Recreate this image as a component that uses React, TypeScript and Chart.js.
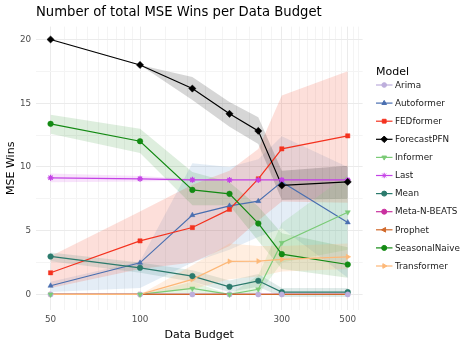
import React, { useEffect, useRef } from 'react';
import { Chart, registerables } from 'chart.js';
import { drawPoint } from 'chart.js/helpers';

Chart.register(...registerables);

// ---------- data ----------
const budgets = [50, 100, 150, 200, 250, 300, 500];
const xMajorTicks = [50, 100, 300, 500];
const yMajorTicks = [0, 5, 10, 15, 20];

const models = ['Arima', 'Autoformer', 'FEDformer', 'ForecastPFN', 'Informer', 'Last', 'Mean', 'Meta-N-BEATS', 'Prophet', 'SeasonalNaive', 'Transformer'];

const arimaWins = [0, 0, 0, 0, 0, 0, 0];
const autoformerWins = [0.68, 2.48, 6.22, 6.95, 7.32, 8.83, 5.65];
const fedformerWins = [1.7, 4.2, 5.25, 6.67, 9.07, 11.42, 12.44];
const forecastPFNWins = [20, 18, 16.15, 14.17, 12.83, 8.55, 8.83];
const informerWins = [0, 0, 0.47, 0, 0.41, 4.05, 6.45];
const lastWins = [9.15, 9.07, 8.99, 8.98, 8.98, 8.98, 8.98];
const meanWins = [2.98, 2.09, 1.44, 0.6, 1.07, 0.18, 0.18];
const metaNBeatsWins = [0, 0, 0, 0, 0, 0, 0];
const prophetWins = [0, 0, 0, 0, 0, 0, 0];
const seasonalNaiveWins = [13.38, 12.02, 8.2, 7.89, 5.57, 3.16, 2.35];
const transformerWins = [0, 0, 1.18, 2.59, 2.61, 2.75, 2.95];

// uncertainty bands (lower / upper)
const autoformerLow = [0.2, 0.5, 2.5, 3.5, 4.5, 5.2, 1.3];
const autoformerHigh = [1.0, 2.6, 10.3, 10.0, 10.6, 12.4, 10.0];
const fedformerLow = [0.5, 2.0, 2.5, 3.8, 5.8, 7.3, 7.2];
const fedformerHigh = [3.0, 6.5, 8.6, 9.7, 11.4, 15.6, 17.5];
const forecastPFNLow = [20, 18, 15.25, 13.15, 11.8, 7.4, 7.5];
const forecastPFNHigh = [20, 18, 17.05, 15.1, 13.9, 9.7, 10.1];
const informerLow = [0, 0, 0, 0, 0, 2.5, 3.5];
const informerHigh = [0, 0, 1.0, 0, 1.5, 5.6, 9.4];
const lastLow = [8.8, 8.85, 8.95, 8.96, 8.96, 8.96, 8.96];
const lastHigh = [9.48, 9.3, 9.05, 9.0, 9.0, 9.0, 9.0];
const meanLow = [2.6, 1.7, 1.0, 0.2, 0.6, -0.2, -0.2];
const meanHigh = [3.3, 2.5, 1.9, 1.1, 1.6, 0.5, 0.5];
const seasonalNaiveLow = [12.6, 11.1, 7.0, 7.0, 4.2, 2.0, 1.3];
const seasonalNaiveHigh = [14.1, 13.0, 9.6, 8.8, 6.9, 4.8, 3.7];
const transformerLow = [0, 0, 0.4, 1.2, 1.4, 1.8, 2.0];
const transformerHigh = [0, 0, 2.3, 4.0, 3.8, 3.8, 4.0];

type Series = {
  name: string;
  values: number[];
  color: string;
  band?: string;
  low?: number[];
  high?: number[];
  style: string;
  rotation: number;
  radius: number;
  showPoints: boolean;
  pointOrder: number;
};

const series: Series[] = [
  { name: models[0], values: arimaWins, color: '#BDAEDC', style: 'circle', rotation: 0, radius: 2.6, showPoints: true, pointOrder: 2 },
  { name: models[1], values: autoformerWins, color: '#4A6FB0', band: 'rgba(90,140,200,0.16)', low: autoformerLow, high: autoformerHigh, style: 'triangle', rotation: 0, radius: 3, showPoints: true, pointOrder: 8 },
  { name: models[2], values: fedformerWins, color: '#F4321F', band: 'rgba(245,80,50,0.18)', low: fedformerLow, high: fedformerHigh, style: 'rect', rotation: 0, radius: 3, showPoints: true, pointOrder: 7 },
  { name: models[3], values: forecastPFNWins, color: '#000000', band: 'rgba(0,0,0,0.16)', low: forecastPFNLow, high: forecastPFNHigh, style: 'rectRot', rotation: 0, radius: 3.6, showPoints: true, pointOrder: 3 },
  { name: models[4], values: informerWins, color: '#7BCB77', band: 'rgba(123,203,119,0.2)', low: informerLow, high: informerHigh, style: 'triangle', rotation: 180, radius: 3, showPoints: true, pointOrder: 1 },
  { name: models[5], values: lastWins, color: '#C442E6', band: 'rgba(210,70,230,0.15)', low: lastLow, high: lastHigh, style: 'star', rotation: 0, radius: 3, showPoints: true, pointOrder: 6 },
  { name: models[6], values: meanWins, color: '#2B7A6C', band: 'rgba(43,122,108,0.15)', low: meanLow, high: meanHigh, style: 'circle', rotation: 0, radius: 2.8, showPoints: true, pointOrder: 5 },
  { name: models[7], values: metaNBeatsWins, color: '#C9309F', style: 'circle', rotation: 0, radius: 2.8, showPoints: false, pointOrder: 11 },
  { name: models[8], values: prophetWins, color: '#D1692B', style: 'triangle', rotation: -90, radius: 3, showPoints: false, pointOrder: 10 },
  { name: models[9], values: seasonalNaiveWins, color: '#138A13', band: 'rgba(19,138,19,0.14)', low: seasonalNaiveLow, high: seasonalNaiveHigh, style: 'circle', rotation: 0, radius: 2.8, showPoints: true, pointOrder: 4 },
  { name: models[10], values: transformerWins, color: '#FDB878', band: 'rgba(253,170,100,0.2)', low: transformerLow, high: transformerHigh, style: 'triangle', rotation: 90, radius: 3, showPoints: true, pointOrder: 9 },
];

const TITLE = 'Number of total MSE Wins per Data Budget';
const X_TITLE = 'Data Budget';
const Y_TITLE = 'MSE Wins';
const LEGEND_TITLE = 'Model';

const FONT = '"DejaVu Sans", "Liberation Sans", sans-serif';

function xGridValues(): { value: number; major: boolean }[] {
  const out: { value: number; major: boolean }[] = [];
  for (let i = 0; i < xMajorTicks.length; i++) {
    const a = xMajorTicks[i];
    out.push({ value: a, major: true });
    if (i < xMajorTicks.length - 1) {
      const b = xMajorTicks[i + 1];
      for (let k = 1; k < 9; k++) out.push({ value: a + ((b - a) * k) / 9, major: false });
    }
  }
  const lastMajor = xMajorTicks[xMajorTicks.length - 1];
  const step = (lastMajor - xMajorTicks[xMajorTicks.length - 2]) / 9;
  out.push({ value: lastMajor + step, major: false });
  out.push({ value: lastMajor + 2 * step, major: false });
  return out;
}

const decorPlugin = {
  id: 'decor',
  afterDraw(chart: any) {
    const ctx = chart.ctx as CanvasRenderingContext2D;
    const area = chart.chartArea;
    ctx.save();
    ctx.fillStyle = '#000';
    ctx.textAlign = 'left';
    ctx.textBaseline = 'alphabetic';
    ctx.font = `13.2px ${FONT}`;
    ctx.fillText(TITLE, 36, 15.5);

    ctx.font = `11px ${FONT}`;
    ctx.textAlign = 'center';
    ctx.fillText(X_TITLE, (area.left + area.right) / 2, 337.5);

    ctx.save();
    ctx.translate(13.5, (area.top + area.bottom) / 2);
    ctx.rotate(-Math.PI / 2);
    ctx.fillText(Y_TITLE, 0, 0);
    ctx.restore();

    // legend
    ctx.textAlign = 'left';
    ctx.font = `11px ${FONT}`;
    ctx.fillText(LEGEND_TITLE, 376, 74.5);
    ctx.font = `8.8px ${FONT}`;
    series.forEach((s, i) => {
      const y = 85 + i * 18.1;
      ctx.strokeStyle = s.color;
      ctx.lineWidth = 1.2;
      ctx.beginPath();
      ctx.moveTo(376, y);
      ctx.lineTo(392.5, y);
      ctx.stroke();
      ctx.fillStyle = s.color;
      ctx.lineWidth = 1;
      drawPoint(ctx, { pointStyle: s.style as any, rotation: s.rotation, radius: s.radius * 0.9, borderWidth: 1 }, 384.2, y);
      ctx.fillStyle = '#1A1A1A';
      ctx.textBaseline = 'middle';
      ctx.fillText(s.name, 395, y + 0.5);
    });
    ctx.restore();
  },
};

export default function App() {
  const ref = useRef<HTMLCanvasElement | null>(null);

  useEffect(() => {
    if (!ref.current) return;
    const datasets: any[] = [];
    // bands
    series.forEach((s, i) => {
      if (!s.band || !s.low || !s.high) return;
      datasets.push({
        label: s.name + ' low',
        data: budgets.map((b, j) => ({ x: b, y: s.low![j] })),
        borderWidth: 0,
        borderColor: 'transparent',
        pointRadius: 0,
        fill: false,
        order: 300 - i,
      });
      datasets.push({
        label: s.name + ' high',
        data: budgets.map((b, j) => ({ x: b, y: s.high![j] })),
        borderWidth: 0,
        borderColor: 'transparent',
        backgroundColor: s.band,
        pointRadius: 0,
        fill: '-1',
        order: 300 - i,
      });
    });
    // lines
    series.forEach((s, i) => {
      datasets.push({
        label: s.name,
        data: budgets.map((b, j) => ({ x: b, y: s.values[j] })),
        borderColor: s.color,
        backgroundColor: s.color,
        borderWidth: 1.2,
        pointRadius: 0,
        fill: false,
        order: 200 - i,
      });
    });
    // points
    series.forEach((s) => {
      if (!s.showPoints) return;
      datasets.push({
        label: s.name + ' pts',
        data: budgets.map((b, j) => ({ x: b, y: s.values[j] })),
        showLine: false,
        borderColor: s.color,
        backgroundColor: s.color,
        pointStyle: s.style,
        pointRotation: s.rotation,
        pointRadius: s.radius,
        pointBorderWidth: s.style === 'star' ? 1.2 : 0.5,
        fill: false,
        order: s.pointOrder,
      });
    });

    const chart = new Chart(ref.current, {
      type: 'line',
      data: { datasets },
      plugins: [decorPlugin],
      options: {
        animation: false,
        responsive: false,
        maintainAspectRatio: false,
        devicePixelRatio: 1,
        layout: { padding: { top: 26.6, right: 102.4, bottom: 0, left: 0 } },
        plugins: {
          legend: { display: false },
          title: { display: false },
          tooltip: { enabled: false },
        },
        scales: {
          x: {
            type: 'logarithmic',
            min: 44.56,
            max: 561,
            afterBuildTicks: (scale: any) => {
              scale.ticks = xGridValues().map((g) => ({ value: g.value, major: g.major }));
            },
            afterFit: (scale: any) => {
              scale.height = 39;
            },
            ticks: {
              autoSkip: false,
              maxRotation: 0,
              minRotation: 0,
              padding: 4,
              color: '#4D4D4D',
              font: { family: FONT, size: 8.8 },
              callback: (v: any) => (xMajorTicks.includes(Number(v)) ? String(v) : ''),
            },
            grid: {
              drawTicks: false,
              color: (c: any) => (c.tick && xMajorTicks.includes(c.tick.value) ? '#EBEBEB' : '#F4F4F4'),
              lineWidth: 1,
            },
            border: { display: false },
          },
          y: {
            type: 'linear',
            min: -1.22,
            max: 21.01,
            afterBuildTicks: (scale: any) => {
              const t: any[] = [];
              for (let v = 0; v <= 20; v += 2.5) t.push({ value: v });
              scale.ticks = t;
            },
            afterFit: (scale: any) => {
              scale.width = 35.7;
            },
            ticks: {
              autoSkip: false,
              padding: 4.5,
              color: '#4D4D4D',
              font: { family: FONT, size: 8.8 },
              callback: (v: any) => (yMajorTicks.includes(Number(v)) ? String(v) : ''),
            },
            grid: {
              drawTicks: false,
              color: (c: any) => (c.tick && yMajorTicks.includes(c.tick.value) ? '#EBEBEB' : '#F4F4F4'),
              lineWidth: 1,
            },
            border: { display: false },
          },
        },
      } as any,
    });
    return () => chart.destroy();
  }, []);

  return (
    <div style={{ position: 'fixed', left: 0, top: 0, width: 465, height: 349, background: '#fff' }}>
      <canvas ref={ref} width={465} height={349} style={{ width: 465, height: 349, display: 'block' }} />
    </div>
  );
}
